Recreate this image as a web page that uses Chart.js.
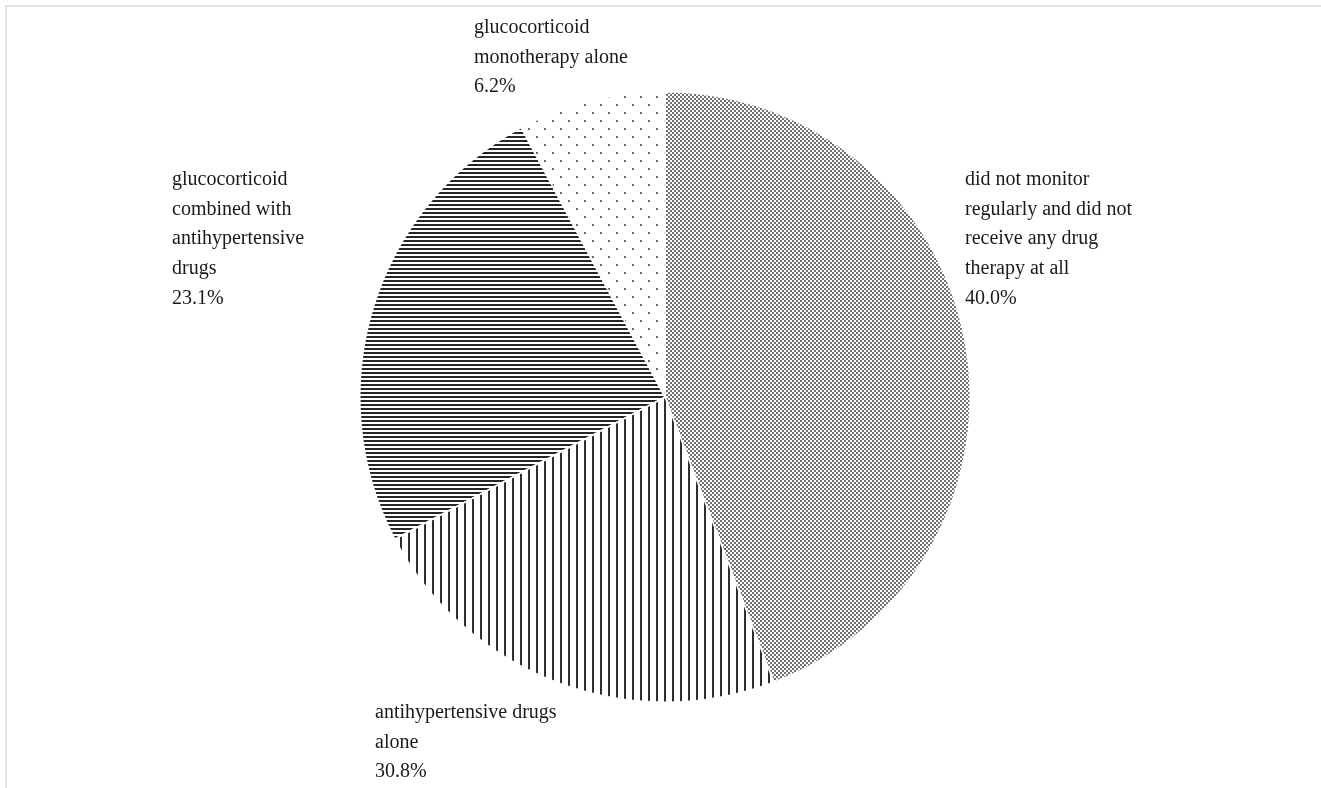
<!DOCTYPE html>
<html>
<head>
  <meta charset="UTF-8">
  <title>Drug therapy pie</title>
  <script src="https://cdn.jsdelivr.net/npm/chart.js"></script>
  <style>
    body {
      margin: 0;
      padding: 0;
      background: #fff;
    }
    #wrap {
      position: relative;
      width: 1321px;
      height: 788px;
      overflow: hidden;
    }
    #frame {
      position: absolute;
      left: 5px;
      top: 5px;
      right: -10px;
      bottom: -10px;
      border-left: 2px solid #e4e4e4;
      border-top: 2px solid #e4e4e4;
    }
    canvas {
      position: absolute;
      left: 0;
      top: 0;
    }
  </style>
</head>
<body>
  <div id="wrap">
    <div id="frame"></div>
    <canvas id="myChart" width="1321" height="788"></canvas>
  </div>
  <script>
    // categories, clockwise from 12 o'clock
    const categories = [
      'did not monitor regularly and did not receive any drug therapy at all',
      'antihypertensive drugs alone',
      'glucocorticoid combined with antihypertensive drugs',
      'glucocorticoid monotherapy alone'
    ];
    // slice sizes as drawn in the picture (angle share, %)
    const sliceShare = [44.2, 23.1, 24.9, 7.8];
    // percent labels printed on the chart
    const pctLabels = ['40.0%', '30.8%', '23.1%', '6.2%'];
    // label text broken into lines as in the picture
    const labelLines = [
      ['did not monitor', 'regularly and did not', 'receive any drug', 'therapy at all'],
      ['antihypertensive drugs', 'alone'],
      ['glucocorticoid', 'combined with', 'antihypertensive', 'drugs'],
      ['glucocorticoid', 'monotherapy alone']
    ];

    // where each label block starts (left x, first line y)
    const labelPos = [
      { x: 965, y: 180 },
      { x: 375, y: 713 },
      { x: 172, y: 180 },
      { x: 474, y: 28 }
    ];

    function makePattern(w, h, draw) {
      const c = document.createElement('canvas');
      c.width = w;
      c.height = h;
      const g = c.getContext('2d');
      g.fillStyle = '#fff';
      g.fillRect(0, 0, w, h);
      draw(g);
      return c.getContext('2d').createPattern(c, 'repeat');
    }

    const ctxMain = document.getElementById('myChart').getContext('2d');

    const denseDots = makePattern(4, 4, g => {
      g.fillStyle = '#707070';
      g.fillRect(0, 0, 2, 2);
      g.fillRect(2, 2, 2, 2);
    });
    const vLines = makePattern(8, 1, g => {
      g.fillStyle = '#2e2e2e';
      g.fillRect(0, 0, 2, 1);
    });
    const hLines = makePattern(1, 4, g => {
      g.fillStyle = '#262626';
      g.fillRect(0, 0, 1, 2);
    });
    const sparseDots = makePattern(16, 16, g => {
      g.fillStyle = '#6a6a6a';
      g.fillRect(0, 0, 2, 2);
      g.fillRect(8, 8, 2, 2);
    });

    const labelPlugin = {
      id: 'sliceLabels',
      afterDraw(chart) {
        const c = chart.ctx;
        c.save();
        c.font = '20px "Liberation Serif", "Times New Roman", serif';
        c.fillStyle = '#1a1a1a';
        c.textAlign = 'left';
        c.textBaseline = 'middle';
        const lh = 29.6;
        labelLines.forEach((lines, i) => {
          const all = lines.concat([pctLabels[i]]);
          const p = labelPos[i];
          all.forEach((t, k) => c.fillText(t, p.x, p.y + k * lh));
        });
        c.restore();
      }
    };

    new Chart(ctxMain, {
      type: 'pie',
      data: {
        labels: categories,
        datasets: [{
          data: sliceShare,
          backgroundColor: [denseDots, vLines, hLines, sparseDots],
          borderColor: '#ffffff',
          borderWidth: 1.5
        }]
      },
      options: {
        responsive: false,
        animation: false,
        layout: {
          padding: { top: 91, bottom: 85, left: 359, right: 350 }
        },
        plugins: {
          legend: { display: false },
          tooltip: { enabled: false }
        }
      },
      plugins: [labelPlugin]
    });
  </script>
</body>
</html>
